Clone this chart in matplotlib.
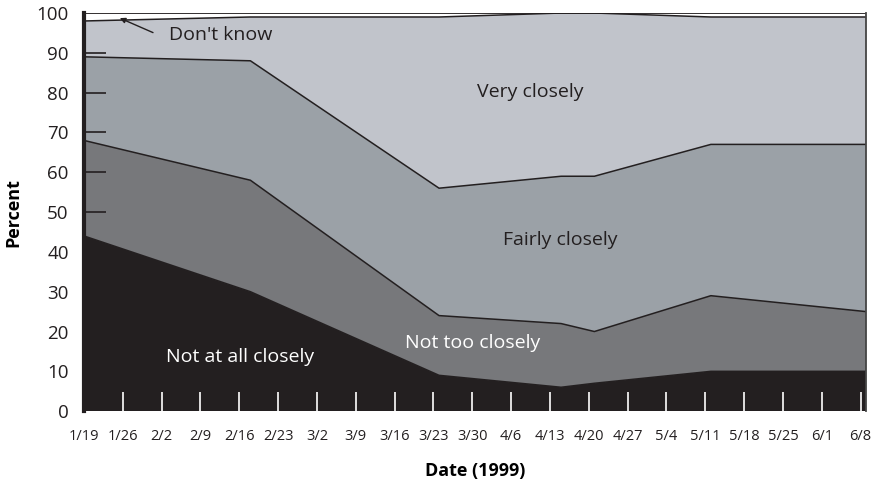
import numpy as np
import matplotlib
matplotlib.use("Agg")
import matplotlib.pyplot as plt

plt.rcParams["font.family"] = ["Open Sans", "DejaVu Sans"]

# =========================
# DATA (days since 1/19/1999)
# =========================
days = [0, 30, 64, 86, 92, 113, 141]
not_at_all = [44, 30, 9, 6, 7, 10, 10]
not_too = [24, 28, 15, 16, 13, 19, 15]
fairly = [21, 30, 32, 37, 39, 38, 42]
very = [9, 11, 43, 41, 41, 32, 32]
dont_know = [2, 1, 1, 0, 0, 1, 1]

week_labels = ["1/19", "1/26", "2/2", "2/9", "2/16", "2/23", "3/2", "3/9", "3/16",
               "3/23", "3/30", "4/6", "4/13", "4/20", "4/27", "5/4", "5/11",
               "5/18", "5/25", "6/1", "6/8"]

colors = ["#231f20", "#77787b", "#9ba1a7", "#c1c4cb", "#ffffff"]

# =========================
# FIGURE
# =========================
fig = plt.figure(figsize=(8.73, 4.82), dpi=100)
ax = fig.add_axes([0.0962, 0.147, 0.896, 0.826])

series = [not_at_all, not_too, fairly, very, dont_know]
ax.stackplot(days, *series, colors=colors, lw=0)

cum = np.cumsum(np.array(series), axis=0)
for row in cum[:-1]:
    ax.plot(days, row, color="#231f20", lw=1.1)
ax.axhline(100, color="#231f20", lw=1.3)

ax.set_xlim(days[0], days[-1])
ax.set_ylim(0, 100)

# =========================
# EJES
# =========================
for s in ["top", "bottom"]:
    ax.spines[s].set_visible(False)
ax.spines["left"].set_linewidth(3)
ax.spines["left"].set_color("#231f20")
ax.spines["right"].set_linewidth(1.3)
ax.spines["right"].set_color("#444444")

ax.set_yticks(range(0, 101, 10))
ax.tick_params(axis="y", direction="in", length=16, width=1.2, pad=11,
               labelsize=13.5, colors="#231f20")
for t, v in zip(ax.yaxis.get_major_ticks(), range(0, 101, 10)):
    if v in (0, 100):
        t.tick1line.set_visible(False)
    elif v < 44:
        t.tick1line.set_color("white")

ax.set_xticks(range(0, 141, 7))
ax.set_xticklabels(week_labels)
ax.tick_params(axis="x", direction="in", length=14, width=1.2, pad=13,
               labelsize=10.5, color="white", labelcolor="#231f20")

ax.set_ylabel("Percent", fontsize=13, fontweight="bold", labelpad=10)
ax.set_xlabel("Date (1999)", fontsize=13, fontweight="bold", labelpad=13)

# =========================
# ETIQUETAS
# =========================
ax.text(15.4, 94.5, "Don't know", fontsize=14, color="#231f20", va="center")
ax.annotate("", xy=(6.0, 99.0), xytext=(12.9, 94.8),
            arrowprops=dict(arrowstyle="-|>", color="#231f20", lw=1,
                            mutation_scale=8))
ax.text(80.5, 80.2, "Very closely", fontsize=14, color="#231f20",
        ha="center", va="center")
ax.text(85.8, 43, "Fairly closely", fontsize=14, color="#231f20",
        ha="center", va="center")
ax.text(70.1, 17.1, "Not too closely", fontsize=14, color="white",
        ha="center", va="center")
ax.text(28.2, 13.6, "Not at all closely", fontsize=14, color="white",
        ha="center", va="center")

plt.savefig("out.png", dpi=100)
plt.close()
